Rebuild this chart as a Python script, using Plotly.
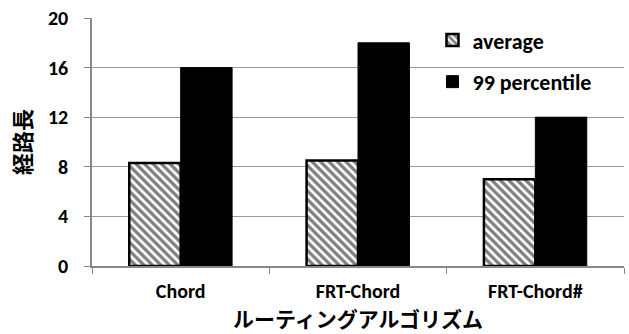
import plotly.graph_objects as go

categories = ["Chord", "FRT-Chord", "FRT-Chord#"]
average = [8.3, 8.5, 7.0]
percentile99 = [16, 18, 12]
y_ticks = [0, 4, 8, 12, 16, 20]

font_lat = "Carlito, Lato, 'Open Sans', 'Noto Sans CJK JP', sans-serif"
font_cjk = "'Noto Sans CJK JP', sans-serif"

fig = go.Figure()
fig.add_trace(go.Bar(
    x=categories, y=average, name="<b>average</b>", legendgroup="a",
    marker=dict(color="white", line=dict(color="black", width=2.5),
                pattern=dict(shape="\\", fgcolor="black", bgcolor="white", size=6, solidity=0.55)),
))
fig.add_trace(go.Bar(
    x=categories, y=percentile99, name="<b>99 percentile</b>", legendgroup="b",
    marker=dict(color="black", line=dict(color="black", width=1)),
))

fig.update_layout(
    width=629, height=334,
    margin=dict(l=92, r=5, t=18, b=68),
    plot_bgcolor="white", paper_bgcolor="white",
    barmode="group", bargap=0.42, bargroupgap=0,
    font=dict(family=font_lat, color="black"),
    legend=dict(x=0.64, y=0.995, xanchor="left", yanchor="top",
                font=dict(size=22, family=font_lat),
                bgcolor="rgba(0,0,0,0)", traceorder="grouped", tracegroupgap=10,
                itemwidth=30),
    xaxis=dict(
        automargin=False,
        showline=True, linecolor="#888888", linewidth=1.5,
        ticks="outside", tickson="boundaries", ticklen=6, tickcolor="#888888",
        tickfont=dict(size=20, family=font_lat),
        ticktext=["<b>%s</b>" % c for c in categories], tickvals=categories,
        ticklabelstandoff=6,
        title=dict(text="<b>ルーティングアルゴリズム</b>", font=dict(size=21, family=font_cjk), standoff=0),
    ),
    yaxis=dict(
        automargin=False,
        range=[0, 20], tickvals=y_ticks, ticktext=["<b>%d</b>" % v for v in y_ticks],
        showgrid=True, gridcolor="#999999", gridwidth=1.2,
        showline=True, linecolor="#888888", linewidth=1.5,
        ticks="outside", ticklen=6, tickcolor="#888888",
        tickfont=dict(size=20, family=font_lat),
        ticklabelstandoff=12,
        title=dict(text="<b>経路長</b>", font=dict(size=22, family=font_cjk), standoff=10),
        zeroline=False,
    ),
)

fig.write_html("out.html", config={"displayModeBar": False},
               post_script="document.body.style.margin='0';")
